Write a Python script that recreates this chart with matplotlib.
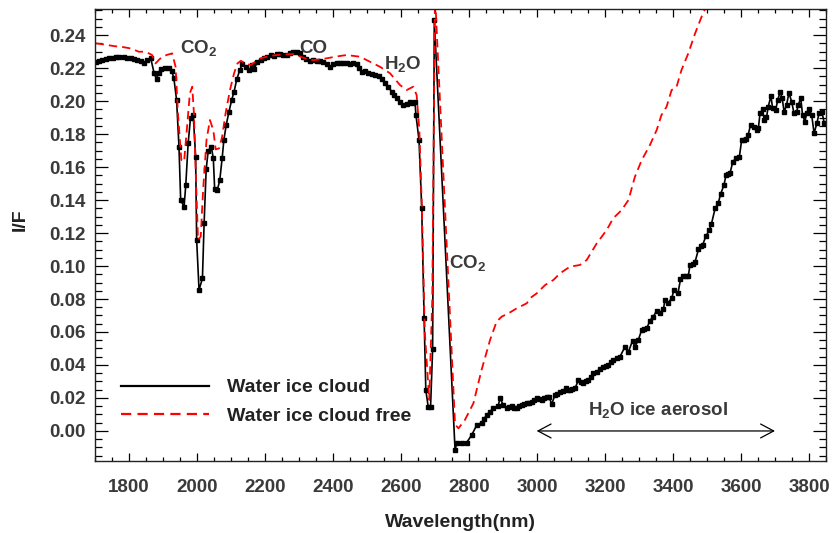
import matplotlib
matplotlib.use("Agg")
import matplotlib.pyplot as plt
from matplotlib.ticker import MultipleLocator, FormatStrFormatter

plt.rcParams['font.family'] = ['Liberation Sans', 'DejaVu Sans']
plt.rcParams['font.weight'] = 'bold'
plt.rcParams['mathtext.fontset'] = 'custom'
plt.rcParams['mathtext.rm'] = 'Liberation Sans:bold'
plt.rcParams['mathtext.it'] = 'Liberation Sans:bold'
plt.rcParams['mathtext.bf'] = 'Liberation Sans:bold'

# spectrum with the water ice cloud (wavelength nm, I/F)
cloud_wl = [1702, 1712, 1722, 1732, 1742, 1752, 1762, 1772, 1785, 1795,
            1805, 1815, 1825, 1835, 1844, 1854, 1864, 1874, 1881, 1887,
            1893, 1905, 1918, 1926, 1932, 1940, 1947, 1952, 1962, 1967,
            1974, 1981, 1989, 1996, 1999, 2006, 2016, 2021, 2027, 2033,
            2042, 2048, 2052, 2060, 2067, 2074, 2079, 2086, 2094, 2102,
            2109, 2117, 2126, 2133, 2143, 2153, 2163, 2168, 2177, 2187,
            2197, 2207, 2217, 2227, 2236, 2244, 2254, 2264, 2274, 2283,
            2293, 2303, 2313, 2322, 2332, 2342, 2352, 2362, 2372, 2381,
            2391, 2401, 2411, 2420, 2430, 2440, 2450, 2460, 2470, 2477,
            2484, 2494, 2504, 2514, 2524, 2534, 2543, 2553, 2563, 2573,
            2580, 2587, 2597, 2607, 2617, 2626, 2633, 2641, 2644, 2653,
            2661, 2668, 2673, 2680, 2687, 2693, 2698, 2759, 2764, 2778,
            2793, 2808, 2823, 2837, 2845, 2852, 2862, 2872, 2886, 2891,
            2901, 2911, 2918, 2926, 2933, 2940, 2948, 2955, 2962, 2970,
            2977, 2984, 2992, 2999, 3007, 3014, 3022, 3029, 3036, 3043,
            3053, 3060, 3068, 3076, 3085, 3090, 3097, 3104, 3112, 3122,
            3130, 3136, 3144, 3151, 3158, 3166, 3176, 3185, 3195, 3202,
            3210, 3217, 3224, 3234, 3244, 3259, 3269, 3281, 3288, 3298,
            3308, 3315, 3323, 3332, 3342, 3352, 3362, 3372, 3376, 3386,
            3396, 3403, 3415, 3422, 3430, 3438, 3445, 3450, 3458, 3465,
            3475, 3481, 3487, 3497, 3507, 3513, 3524, 3533, 3540, 3550,
            3556, 3562, 3568, 3576, 3585, 3595, 3602, 3608, 3615, 3621,
            3628, 3638, 3646, 3651, 3656, 3664, 3668, 3675, 3680, 3688,
            3693, 3702, 3708, 3715, 3721, 3727, 3734, 3741, 3749, 3756,
            3764, 3768, 3776, 3781, 3788, 3793, 3801, 3808, 3815, 3823,
            3830, 3838, 3845]
cloud_if = [0.2238, 0.2245, 0.2250, 0.2255, 0.2262, 0.2258, 0.2265, 0.2268, 0.2269, 0.2262,
            0.2258, 0.2253, 0.2248, 0.2240, 0.2232, 0.2248, 0.2259, 0.2168, 0.2132, 0.2170,
            0.2192, 0.2198, 0.2198, 0.2180, 0.2138, 0.2006, 0.1723, 0.1400, 0.1359, 0.1491,
            0.1744, 0.1900, 0.1915, 0.1662, 0.1158, 0.0855, 0.0925, 0.1263, 0.1586, 0.1699,
            0.1723, 0.1653, 0.1465, 0.1461, 0.1521, 0.1653, 0.1764, 0.1855, 0.1935, 0.2006,
            0.2056, 0.2132, 0.2188, 0.2222, 0.2208, 0.2188, 0.2218, 0.2192, 0.2238, 0.2250,
            0.2259, 0.2270, 0.2279, 0.2272, 0.2285, 0.2285, 0.2280, 0.2279, 0.2290, 0.2295,
            0.2299, 0.2290, 0.2269, 0.2255, 0.2244, 0.2250, 0.2240, 0.2244, 0.2235, 0.2225,
            0.2204, 0.2222, 0.2232, 0.2228, 0.2232, 0.2228, 0.2226, 0.2228, 0.2224, 0.2200,
            0.2178, 0.2180, 0.2172, 0.2164, 0.2155, 0.2150, 0.2135, 0.2107, 0.2085, 0.2056,
            0.2035, 0.2016, 0.1995, 0.1976, 0.1985, 0.1996, 0.1990, 0.1996, 0.1915, 0.1764,
            0.1350, 0.0683, 0.0248, 0.0147, 0.0147, 0.0495, 0.2490, -0.0115, -0.0075, -0.0072,
            -0.0071, -0.0024, 0.0036, 0.0050, 0.0075, 0.0097, 0.0117, 0.0141, 0.0152, 0.0198,
            0.0158, 0.0138, 0.0148, 0.0152, 0.0140, 0.0138, 0.0150, 0.0158, 0.0162, 0.0168,
            0.0170, 0.0178, 0.0185, 0.0198, 0.0192, 0.0188, 0.0200, 0.0208, 0.0205, 0.0162,
            0.0218, 0.0225, 0.0238, 0.0245, 0.0259, 0.0250, 0.0248, 0.0255, 0.0259, 0.0309,
            0.0295, 0.0289, 0.0300, 0.0309, 0.0330, 0.0350, 0.0360, 0.0375, 0.0390, 0.0395,
            0.0400, 0.0420, 0.0430, 0.0440, 0.0450, 0.0511, 0.0480, 0.0547, 0.0511, 0.0552,
            0.0612, 0.0620, 0.0622, 0.0669, 0.0693, 0.0729, 0.0717, 0.0737, 0.0794, 0.0778,
            0.0804, 0.0855, 0.0838, 0.0919, 0.0939, 0.0940, 0.0939, 0.1006, 0.1015, 0.1026,
            0.1101, 0.1120, 0.1127, 0.1182, 0.1218, 0.1255, 0.1350, 0.1380, 0.1436, 0.1491,
            0.1552, 0.1560, 0.1566, 0.1632, 0.1653, 0.1659, 0.1764, 0.1766, 0.1768, 0.1794,
            0.1855, 0.1845, 0.1824, 0.1834, 0.1925, 0.1950, 0.1885, 0.1901, 0.1965, 0.2030,
            0.1956, 0.1945, 0.2006, 0.2056, 0.2016, 0.1935, 0.1976, 0.2050, 0.1996, 0.1925,
            0.1935, 0.1976, 0.2016, 0.1915, 0.1875, 0.1925, 0.1950, 0.1915, 0.1804, 0.1865,
            0.1929, 0.1935, 0.1865]

# spectrum without the cloud
free_wl = [1702, 1730, 1756, 1780, 1805, 1829, 1849, 1868, 1878, 1888,
           1898, 1912, 1927, 1937, 1944, 1954, 1962, 1970, 1979, 1986,
           1991, 1996, 2003, 2011, 2018, 2028, 2038, 2048, 2055, 2065,
           2074, 2084, 2097, 2109, 2119, 2129, 2143, 2158, 2172, 2187,
           2217, 2250, 2283, 2310, 2332, 2355, 2381, 2410, 2440, 2479,
           2509, 2538, 2568, 2597, 2617, 2636, 2646, 2654, 2661, 2670,
           2683, 2692, 2700, 2759, 2769, 2788, 2813, 2837, 2862, 2881,
           2896, 2916, 2940, 2970, 2979, 2999, 3024, 3048, 3068, 3097,
           3126, 3146, 3176, 3205, 3224, 3249, 3269, 3288, 3308, 3332,
           3352, 3366, 3381, 3396, 3410, 3425, 3445, 3465, 3484, 3494,
           3520, 3560]
free_if = [0.2350, 0.2342, 0.2333, 0.2328, 0.2319, 0.2299, 0.2299, 0.2279, 0.2228, 0.2250,
           0.2269, 0.2280, 0.2289, 0.2208, 0.1925, 0.1642, 0.1632, 0.1824, 0.2047, 0.2087,
           0.1925, 0.1582, 0.1158, 0.1178, 0.1461, 0.1764, 0.1885, 0.1824, 0.1707, 0.1713,
           0.1784, 0.1925, 0.2067, 0.2168, 0.2228, 0.2244, 0.2228, 0.2218, 0.2240, 0.2259,
           0.2275, 0.2282, 0.2285, 0.2265, 0.2248, 0.2250, 0.2259, 0.2270, 0.2279, 0.2269,
           0.2238, 0.2208, 0.2168, 0.2097, 0.2067, 0.2087, 0.2036, 0.1824, 0.1380, 0.0600,
           0.0188, 0.0800, 0.2650, 0.0040, 0.0016, 0.0067, 0.0168, 0.0370, 0.0552, 0.0662,
           0.0693, 0.0713, 0.0743, 0.0774, 0.0804, 0.0834, 0.0885, 0.0915, 0.0956, 0.0996,
           0.1006, 0.1036, 0.1138, 0.1218, 0.1289, 0.1339, 0.1400, 0.1541, 0.1642, 0.1733,
           0.1824, 0.1915, 0.1965, 0.2067, 0.2083, 0.2188, 0.2289, 0.2410, 0.2511, 0.2556,
           0.2680, 0.2850]

txt_color = '#3a3a3a'
fs = 13.5

fig = plt.figure(figsize=(8.34, 5.33), dpi=100)
ax = fig.add_axes([0.1139, 0.1351, 0.8765, 0.848])

ax.plot(cloud_wl, cloud_if, color='black', lw=1.2, marker='s', ms=3.0,
        label='Water ice cloud')
ax.plot(free_wl, free_if, color='#ff0000', lw=1.3, linestyle=(0, (4.6, 2.8)),
        label='Water ice cloud free')

ax.set_xlim(1700, 3850)
ax.set_ylim(-0.0182, 0.2558)

ax.xaxis.set_major_locator(MultipleLocator(200))
ax.xaxis.set_minor_locator(MultipleLocator(50))
ax.yaxis.set_major_locator(MultipleLocator(0.02))
ax.yaxis.set_minor_locator(MultipleLocator(0.005))
ax.yaxis.set_major_formatter(FormatStrFormatter('%.2f'))

ax.tick_params(axis='both', which='both', direction='in', top=True, right=True,
               colors='black', labelcolor=txt_color, labelsize=fs, width=0.9)
ax.tick_params(axis='x', which='major', length=6.1, pad=13)
ax.tick_params(axis='x', which='minor', length=2.9)
ax.tick_params(axis='y', which='major', length=9.4, pad=6.5)
ax.tick_params(axis='y', which='minor', length=4.7)
for s in ax.spines.values():
    s.set_linewidth(1.0)
    s.set_color('#222222')

ax.set_xlabel('Wavelength(nm)', fontsize=14, fontweight='bold', color='#222222')
ax.xaxis.label.set_va('baseline')
ax.xaxis.set_label_coords(0.5, -0.1454)
ax.set_ylabel('I/F', fontsize=14, fontweight='bold', color='#222222')
ax.yaxis.set_label_coords(-0.0900, 0.533)

# band labels
ax.text(1950, 0.2289, 'CO$_2$', fontsize=fs, color=txt_color, va='baseline')
ax.text(2300, 0.2289, 'CO', fontsize=fs, color=txt_color, va='baseline')
ax.text(2550, 0.2192, 'H$_2$O', fontsize=fs, color=txt_color, va='baseline')
ax.text(2742, 0.0990, 'CO$_2$', fontsize=fs, color=txt_color, va='baseline')
ax.text(3151, 0.0097, 'H$_2$O ice aerosol', fontsize=fs, color=txt_color, va='baseline')
ax.annotate('', xy=(3700, 0.0), xytext=(2999, 0.0),
            arrowprops=dict(arrowstyle='<->,head_length=0.47,head_width=0.25',
                            lw=0.9, color='black', shrinkA=0, shrinkB=0,
                            mutation_scale=20))

leg = ax.legend(loc='upper left', bbox_to_anchor=(0.0356, 0.182), frameon=False,
                fontsize=14, handlelength=4.5, handletextpad=0.96,
                labelspacing=0.56, borderpad=0, borderaxespad=0)
for t in leg.get_texts():
    t.set_color('#222222')
for h in leg.get_lines():
    h.set_marker('')
    h.set_linewidth(1.6)

fig.savefig('out.png', dpi=100)
